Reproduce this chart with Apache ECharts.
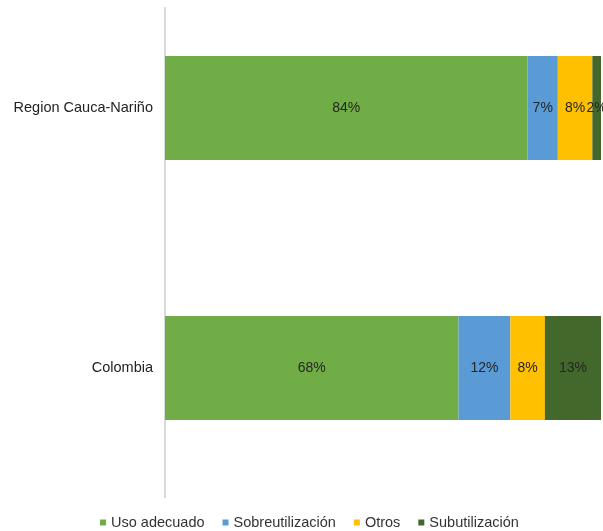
<!DOCTYPE html>
<html>
<head>
<meta charset="utf-8">
<script src="https://cdn.jsdelivr.net/npm/echarts@6/dist/echarts.min.js"></script>
<style>
  html, body { margin: 0; padding: 0; background: #fff; }
  #chart { width: 603px; height: 531px; }
</style>
</head>
<body>
<div id="chart"></div>
<script>
  // categorias (de abajo hacia arriba)
  const categories = ['Colombia', 'Region Cauca-Nariño']
  const seriesNames = ['Uso adecuado', 'Sobreutilización', 'Otros', 'Subutilización']
  const usoAdecuado = [68, 84]
  const sobreutilizacion = [12, 7]
  const otros = [8, 8]
  const subutilizacion = [13, 2]
  const colors = ['#70AD47', '#5B9BD5', '#FFC000', '#43682B']

  const values = [usoAdecuado, sobreutilizacion, otros, subutilizacion]

  let myChart = echarts.init(document.getElementById('chart'))
  myChart.setOption({
    animation: false,
    textStyle: { fontFamily: 'Liberation Sans, Arial, sans-serif' },
    grid: { left: 165, right: 2, top: -22, bottom: 33, outerBoundsMode: 'none', containLabel: false },
    // linea del eje (empieza un poco mas abajo que el grid)
    graphic: [{
      type: 'line',
      shape: { x1: 165, y1: 7, x2: 165, y2: 498 },
      style: { stroke: '#d9d9d9', lineWidth: 2 }
    }],
    legend: {
      bottom: -4,
      left: 95,
      icon: 'rect',
      itemWidth: 6,
      itemHeight: 6,
      itemGap: 18,
      textStyle: { fontSize: 14.5, color: '#333' },
      data: seriesNames
    },
    xAxis: {
      type: 'value',
      min: 0,
      max: 101,
      show: false
    },
    yAxis: {
      type: 'category',
      data: categories,
      axisLine: { show: false },
      axisTick: { show: false },
      axisLabel: { fontSize: 14.5, color: '#222', margin: 12 }
    },
    series: seriesNames.map(function (name, i) {
      return {
        name: name,
        type: 'bar',
        stack: 'total',
        barWidth: '40%',
        itemStyle: { color: colors[i] },
        label: {
          show: true,
          position: 'inside',
          color: '#262626',
          fontSize: 14,
          formatter: '{c}%'
        },
        data: values[i]
      }
    })
  })
</script>
</body>
</html>
